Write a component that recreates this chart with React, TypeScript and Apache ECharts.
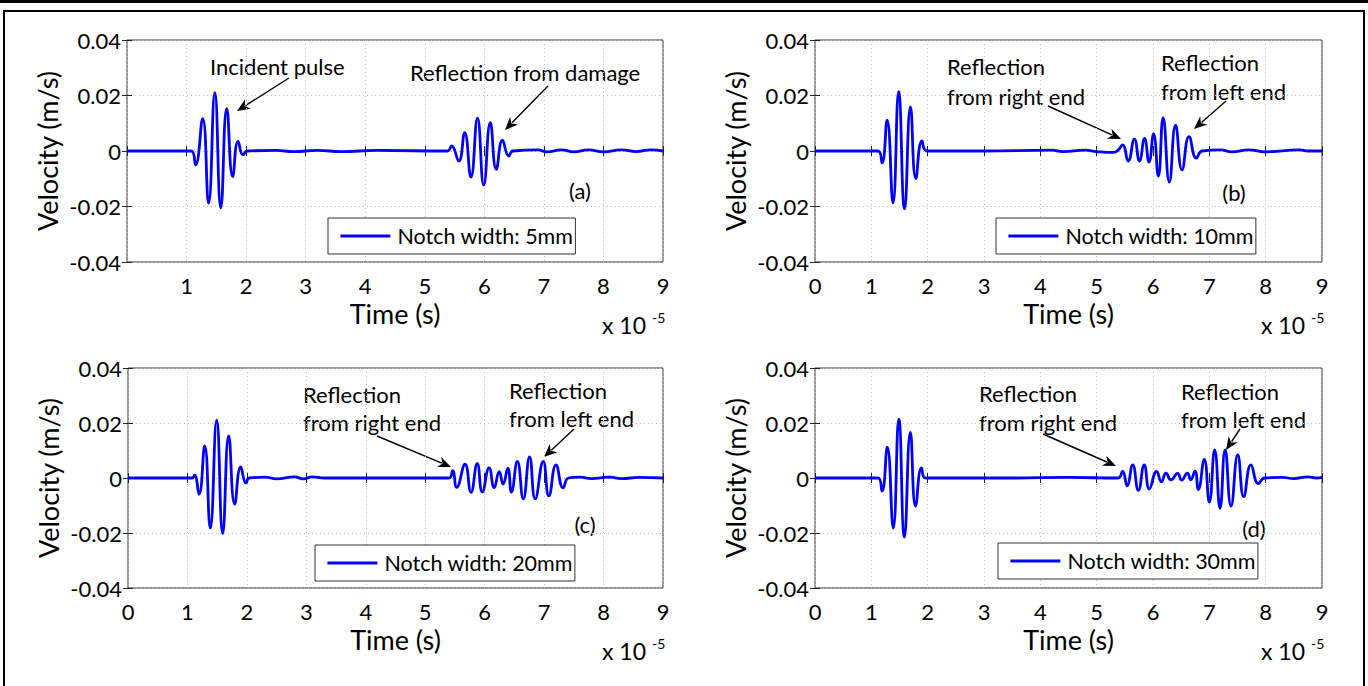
import React, { useEffect, useRef } from "react";
import * as echarts from "echarts";

// ---------- data (time in units of 1e-5 s, velocity in m/s) ----------
const legendNames = [
  "Notch width: 5mm",
  "Notch width: 10mm",
  "Notch width: 20mm",
  "Notch width: 30mm",
];
const panelTags = ["(a)", "(b)", "(c)", "(d)"];
const yTickLabels = ["-0.04", "-0.02", "0", "0.02", "0.04"];

const waveA: [number, number][] = [
  [0, 0], [1.08, 0], [1.15, -0.005], [1.27, 0.0117], [1.37, -0.0188], [1.475, 0.021],
  [1.575, -0.0205], [1.675, 0.0153], [1.775, -0.0092], [1.865, 0.0035], [1.95, -0.0014], [2.02, 0],
  [2.5, 0.0002], [2.8, -0.0002], [3.2, 0.0002], [3.6, -0.0002], [4.2, 0.0002], [5.38, 0],
  [5.45, 0.0018], [5.57, -0.0036], [5.67, 0.0066], [5.775, -0.0094], [5.885, 0.0118],
  [5.99, -0.0123], [6.1, 0.0102], [6.2, -0.0066], [6.305, 0.0039], [6.41, -0.0018], [6.48, 0],
  [6.9, 0.0004], [7.05, -0.0003], [7.3, 0.0004], [7.5, -0.0003], [7.75, 0.0004], [8.0, -0.0003],
  [8.3, 0.0004], [8.55, -0.0002], [8.8, 0.0004], [9, 0],
];

const waveB: [number, number][] = [
  [0, 0], [1.12, 0], [1.19, -0.0043], [1.28, 0.0111], [1.385, -0.0187], [1.485, 0.0214],
  [1.59, -0.0208], [1.695, 0.0159], [1.79, -0.0099], [1.9, 0.0036], [1.99, 0],
  [3.0, 0], [4.2, 0.0003], [4.4, -0.0002], [4.8, 0.0003], [5.0, -0.0002], [5.3, -0.0005], [5.38, 0.0003],
  [5.46, 0.0022], [5.56, -0.0036], [5.67, 0.0043], [5.76, -0.0036], [5.85, 0.0045], [5.93, -0.004],
  [6.01, 0.0062], [6.095, -0.009], [6.18, 0.012], [6.29, -0.0112], [6.4, 0.0093], [6.515, -0.0068],
  [6.64, 0.0052], [6.77, -0.0026], [6.87, 0],
  [7.2, 0.0004], [7.4, -0.0003], [7.7, 0.0004], [8.0, -0.0003], [8.6, 0.0004], [8.75, 0], [9, 0],
];

const waveC: [number, number][] = [
  [0, 0], [1.08, 0], [1.12, 0.001], [1.195, -0.0059], [1.29, 0.0117], [1.384, -0.0182],
  [1.492, 0.021], [1.593, -0.0202], [1.694, 0.0153], [1.795, -0.0095], [1.896, 0.004],
  [1.985, -0.0018], [2.04, 0],
  [2.3, 0.0003], [2.5, -0.0003], [2.8, 0.0004], [2.95, -0.0003], [3.1, 0.0004], [3.3, 0], [5.4, 0],
  [5.46, 0.0027], [5.53, -0.0034], [5.67, 0.005], [5.77, -0.0052], [5.875, 0.0052], [5.96, -0.0051],
  [6.075, 0.0037], [6.16, -0.0035], [6.245, 0.0023], [6.31, -0.0022], [6.39, 0.0036], [6.45, -0.0051],
  [6.55, 0.006], [6.65, -0.0076], [6.755, 0.0077], [6.85, -0.0076], [6.985, 0.006], [7.08, -0.0065],
  [7.2, 0.0048], [7.32, -0.0036], [7.41, 0],
  [7.6, 0.0003], [7.8, -0.0002], [8.1, 0.0003], [8.3, -0.0002], [8.6, 0.0002], [9, 0],
];

const waveD: [number, number][] = [
  [0, 0], [1.12, 0], [1.19, -0.0048], [1.283, 0.0112], [1.389, -0.0182], [1.488, 0.0214],
  [1.587, -0.0215], [1.693, 0.0166], [1.786, -0.0102], [1.891, 0.0037], [1.96, 0],
  [3.5, 0], [4.5, 0.0002], [5.38, 0],
  [5.46, 0.0024], [5.54, -0.0028], [5.64, 0.0048], [5.74, -0.0045], [5.845, 0.0048], [5.935, -0.004],
  [6.065, 0.0024], [6.15, -0.0014], [6.23, 0.0018], [6.32, -0.0007], [6.435, 0.0017], [6.51, -0.0008],
  [6.61, 0.0018], [6.67, -0.0006], [6.745, 0.0025], [6.805, -0.0042], [6.91, 0.0068], [7.0, -0.0088],
  [7.095, 0.0102], [7.19, -0.011], [7.28, 0.0102], [7.385, -0.0102], [7.505, 0.0084], [7.61, -0.0068],
  [7.74, 0.0048], [7.87, -0.002], [7.98, 0],
  [8.3, 0.0002], [8.5, -0.0002], [8.75, 0.0004], [8.9, 0], [9, 0.0002],
];

const waves = [waveA, waveB, waveC, waveD];

// ---------- layout ----------
const FONT = "Lato, 'Open Sans', sans-serif";
const grids = [
  { left: 127, top: 40, width: 536, height: 222 },
  { left: 815, top: 40, width: 507, height: 222 },
  { left: 128, top: 368, width: 535, height: 220 },
  { left: 815, top: 368, width: 507, height: 220 },
];
const legendPos = [
  { left: 328, top: 218 },
  { left: 996, top: 218 },
  { left: 315, top: 545 },
  { left: 998, top: 543 },
];
const tagPos = [
  [580, 190], [1234, 192], [585, 524], [1254, 528],
];

type Ann = { lines: [string, number, number][]; tail: [number, number]; head: [number, number] };
const annotations: Ann[] = [
  { lines: [["Incident pulse", 210, 66]], tail: [289, 78], head: [237, 111] },
  { lines: [["Reflection from damage", 410, 72]], tail: [548, 86], head: [505, 130] },
  { lines: [["Reflection", 947, 66], ["from right end", 947, 96]], tail: [1048, 106], head: [1121, 139] },
  { lines: [["Reflection", 1161, 62], ["from left end", 1161, 91]], tail: [1226, 101], head: [1194, 129] },
  { lines: [["Reflection", 303, 394], ["from right end", 303, 422]], tail: [377, 436], head: [451, 467] },
  { lines: [["Reflection", 509, 390], ["from left end", 509, 418]], tail: [574, 429], head: [544, 457] },
  { lines: [["Reflection", 979, 393], ["from right end", 979, 422]], tail: [1043, 434], head: [1116, 466] },
  { lines: [["Reflection", 1181, 391], ["from left end", 1181, 419]], tail: [1240, 429], head: [1226, 450] },
];

function arrow(tail: [number, number], head: [number, number]) {
  const [x1, y1] = tail;
  const [x2, y2] = head;
  const dx = x2 - x1, dy = y2 - y1;
  const len = Math.hypot(dx, dy);
  const ux = dx / len, uy = dy / len;
  const L = 13, W = 5.5;
  const bx = x2 - ux * L, by = y2 - uy * L;
  const nx = -uy, ny = ux;
  return [
    { type: "line", shape: { x1, y1, x2: bx + ux * 3, y2: by + uy * 3 }, style: { stroke: "#000", lineWidth: 1.4 }, silent: true },
    {
      type: "polygon",
      shape: { points: [[x2, y2], [bx + nx * W, by + ny * W], [x2 - ux * L * 0.7, y2 - uy * L * 0.7], [bx - nx * W, by - ny * W]] },
      style: { fill: "#000" },
      silent: true,
    },
  ];
}

export default function App() {
  const ref = useRef<HTMLDivElement>(null);
  useEffect(() => {
    if (!ref.current) return;
    const chart = echarts.init(ref.current, undefined, { renderer: "svg" });
    const axisText = { color: "#000", fontFamily: FONT, fontSize: 22 };
    const nameText = { color: "#000", fontFamily: FONT, fontSize: 27 };
    const xAxes: any[] = [];
    const yAxes: any[] = [];
    grids.forEach((g, i) => {
      xAxes.push({
        type: "value", gridIndex: i, min: 0, max: 9, interval: 1,
        name: "Time (s)", nameLocation: "middle", nameGap: 38,
        nameTextStyle: { ...nameText },
        axisLine: { show: false },
        axisTick: { show: true, inside: true, length: 5, lineStyle: { color: "#222" } },
        axisLabel: {
          ...axisText, margin: 12,
          formatter: (v: number) => (i === 0 && v === 0 ? "" : String(v)),
        },
        splitLine: { show: true, lineStyle: { type: [1, 3], color: "#bdbdbd", width: 1 } },
      });
      yAxes.push({
        type: "value", gridIndex: i, min: -0.04, max: 0.04, interval: 0.02,
        name: "Velocity (m/s)", nameLocation: "middle", nameGap: 66, nameRotate: 90,
        nameTextStyle: { ...nameText },
        axisLine: { show: false },
        axisTick: { show: true, inside: true, length: 5, lineStyle: { color: "#222" } },
        axisLabel: {
          ...axisText, margin: 6,
          formatter: (v: number) => yTickLabels[Math.round(v / 0.02) + 2],
        },
        splitLine: { show: true, lineStyle: { type: [1, 3], color: "#bdbdbd", width: 1 } },
      });
    });
    grids.forEach((g, i) => {
      xAxes.push({
        type: "value", gridIndex: i, min: 0, max: 9, interval: 1, position: "top",
        axisLine: { show: false }, axisLabel: { show: false }, splitLine: { show: false },
        axisTick: { show: true, inside: true, length: 5, lineStyle: { color: "#222" } },
      });
      yAxes.push({
        type: "value", gridIndex: i, min: -0.04, max: 0.04, interval: 0.02, position: "right",
        axisLine: { show: false }, axisLabel: { show: false }, splitLine: { show: false },
        axisTick: { show: true, inside: true, length: 5, lineStyle: { color: "#222" } },
      });
    });

    const graphics: any[] = [
      { type: "rect", shape: { x: 0, y: 0, width: 1368, height: 3 }, style: { fill: "#000" }, silent: true },
      { type: "rect", shape: { x: 4, y: 11, width: 1360, height: 690 }, style: { fill: "none", stroke: "#000", lineWidth: 2 }, silent: true },
    ];
    grids.forEach((g, i) => {
      const right = g.left + g.width;
      const bottom = g.top + g.height;
      graphics.push({ type: "text", left: right - 61, top: bottom + 51, style: { text: "x 10", fontFamily: FONT, fontSize: 23, fill: "#000" }, silent: true });
      graphics.push({ type: "text", left: right - 11, top: bottom + 48, style: { text: "-5", fontFamily: FONT, fontSize: 14, fill: "#000" }, silent: true });
      graphics.push({ type: "text", x: tagPos[i][0], y: tagPos[i][1], style: { text: panelTags[i], fontFamily: FONT, fontSize: 22, fill: "#000", textAlign: "center", textVerticalAlign: "middle" }, silent: true });
    });
    annotations.forEach((a) => {
      a.lines.forEach(([ln, x, y]) => {
        graphics.push({ type: "text", x, y, style: { text: ln, fontFamily: FONT, fontSize: 22, fill: "#000", textVerticalAlign: "middle" }, silent: true });
      });
      graphics.push(...arrow(a.tail, a.head));
    });

    chart.setOption({
      animation: false,
      backgroundColor: "#fff",
      grid: grids.map((g) => ({ ...g, show: true, borderColor: "#333", borderWidth: 1, backgroundColor: "transparent" })),
      xAxis: xAxes,
      yAxis: yAxes,
      legend: legendNames.map((n, i) => ({
        data: [n], left: legendPos[i].left, top: legendPos[i].top,
        orient: "horizontal", itemWidth: 50, itemHeight: 14,
        padding: [7, 2, 7, 11], borderColor: "#333", borderWidth: 1, borderRadius: 0,
        backgroundColor: "#fff", selectedMode: false,
        itemStyle: { opacity: 0 },
        lineStyle: { color: "#0000ff", width: 2.8 },
        textStyle: { color: "#000", fontFamily: FONT, fontSize: 21.5, padding: [0, 0, 0, 2] },
      })),
      series: waves.map((w, i) => ({
        name: legendNames[i], type: "line", xAxisIndex: i, yAxisIndex: i,
        data: w, symbol: "none", showSymbol: false, smooth: 0.5,
        lineStyle: { color: "#0000ff", width: 2.8 }, itemStyle: { color: "#0000ff" },
        z: 3,
      })),
      graphic: graphics,
    });
    return () => chart.dispose();
  }, []);
  return (
    <div
      ref={ref}
      style={{ position: "fixed", left: 0, top: 0, width: 1368, height: 686, background: "#fff" }}
    />
  );
}
